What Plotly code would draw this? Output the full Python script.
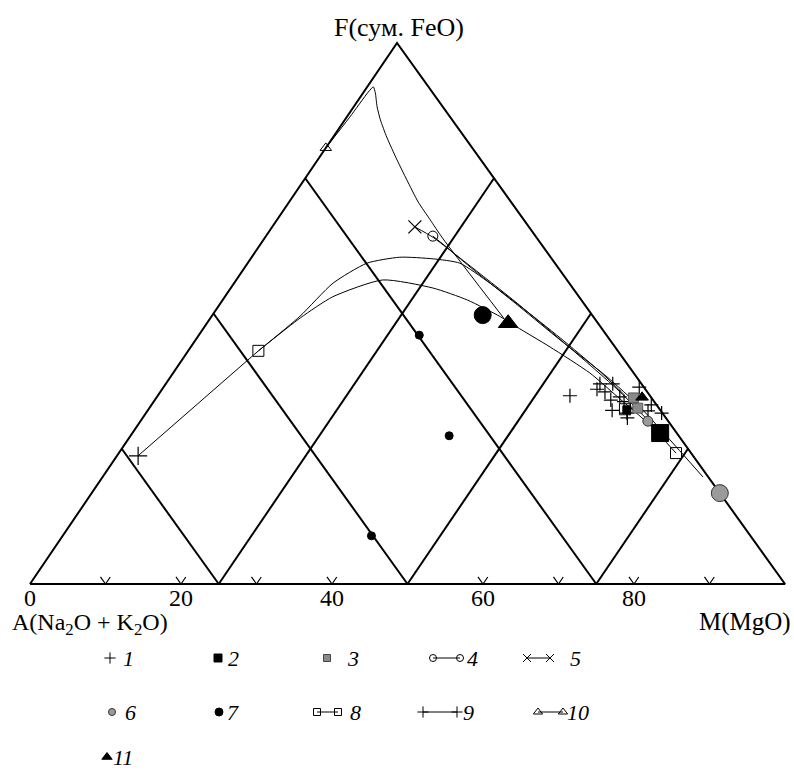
import plotly.graph_objects as go

# ---------------- data: compositions (A, M, F) in % ----------------
S1_PTS = [(10.6, 54.6, 34.8), (5.5, 57.5, 37.0), (3.8, 59.2, 37.0), (6.4, 57.6, 36.0),
          (0.6, 63.0, 36.4), (5.6, 60.4, 34.0), (4.1, 61.3, 34.6), (4.0, 62.3, 33.7),
          (6.4, 61.5, 32.1), (3.8, 63.7, 32.5), (4.7, 63.7, 31.6), (0.7, 66.2, 33.1),
          (0.1, 68.3, 31.6), (1.7, 66.3, 32.0), (5.2, 64.2, 30.7), (5.6, 58.9, 35.5)]
S2_PTS = [(2.2, 69.9, 27.9), (4.4, 63.4, 32.2)]
S3_PTS = [(2.5, 63.2, 34.4), (2.8, 64.7, 32.5)]
S4_PATH = [(13.6, 22.1, 64.3), (12.9, 24.6, 62.5), (11.6, 29.8, 58.6), (8.8, 40.0, 51.2),
           (6.6, 48.3, 45.1), (3.9, 57.8, 38.3), (2.4, 64.9, 32.7), (0.7, 79.5, 19.8)]
S5_PATH = [(15.1, 18.9, 66.0), (13.7, 22.2, 64.1), (11.6, 29.0, 59.3), (8.8, 39.3, 51.9),
           (5.1, 53.8, 41.0), (3.6, 60.9, 35.5), (2.2, 69.9, 27.9)]
S6_PTS = [(2.7, 67.2, 30.1), (0.0, 83.2, 16.8)]
S7_PTS = [(24.8, 29.2, 46.0), (30.4, 42.2, 27.4), (50.3, 40.9, 8.9), (14.5, 35.8, 49.7)]
S8_PATH = [(47.7, 9.3, 43.1), (39.0, 11.9, 49.2), (32.6, 14.3, 53.1), (24.4, 19.4, 56.2),
           (18.5, 26.8, 54.7), (15.1, 32.4, 52.5), (12.4, 38.3, 49.4), (11.1, 41.4, 47.5),
           (8.6, 47.6, 43.8), (5.8, 55.2, 39.0), (4.5, 61.0, 34.6), (2.8, 67.8, 29.4),
           (2.0, 73.8, 24.2)]
S8_EXTRA = [(4.6, 63.1, 32.3)]
S9_PATH = [(73.5, 2.8, 23.7), (47.7, 9.3, 43.1), (38.8, 11.7, 49.5), (31.3, 13.1, 55.6),
           (24.9, 15.8, 59.3), (19.9, 19.6, 60.4), (15.8, 24.2, 60.1), (12.6, 28.1, 59.3),
           (10.5, 33.9, 55.6), (8.7, 39.9, 51.4), (6.4, 48.1, 45.5), (4.4, 56.5, 39.2),
           (3.2, 61.8, 34.9)]
S10_PATH = [(19.4, 0.0, 80.6), (13.3, 0.4, 86.3), (8.5, 0.6, 90.9), (7.4, 0.8, 91.9),
            (7.7, 1.6, 90.8), (8.7, 3.1, 88.2), (9.6, 4.7, 85.8), (10.3, 7.1, 82.6),
            (11.1, 10.5, 78.4), (11.7, 13.6, 74.7), (12.3, 17.1, 70.6), (12.5, 20.3, 67.3),
            (12.6, 23.5, 64.0), (12.1, 38.8, 49.2)]
S11_PTS = [(11.9, 39.9, 48.2), (1.2, 64.3, 34.5)]

GRID_LEVELS = [25, 50, 75]
TICK_VALUES = [10, 20, 30, 40, 60, 70, 80, 90]
TICK_LABELS = ["0", "20", "40", "60", "80"]
TICK_LABEL_VALUES = [0, 20, 40, 60, 80]
LEGEND_LABELS = ["1", "2", "3", "4", "5", "6", "7", "8", "9", "10", "11"]

# ---------------- styles / geometry ----------------
SIZE_S2 = [17, 8]
SIZE_S6 = [10, 17]
SIZE_S7 = [8, 8, 8, 17]
SIZE_S11 = [17, 11]

SKEW = 0.4861           # horizontal position of F apex along base
PX0, PXS = 30, 7.55     # pixel of A vertex, pixels per unit (x)
PY0, PYS = 584, 5.41    # pixel of base, pixels per unit (y)
W, H = 794, 775
FONT = "Liberation Serif, DejaVu Serif, Times New Roman, serif"


def cart(pts):
    xs = [m + SKEW * f for a, m, f in pts]
    ys = [f for a, m, f in pts]
    return xs, ys


def px2x(px):
    return (px - PX0) / PXS


def py2y(py):
    return (PY0 - py) / PYS


fig = go.Figure()


def add_line(pts, width=1.0, color="black", smooth=False):
    xs, ys = cart(pts)
    line = dict(color=color, width=width)
    if smooth:
        line.update(shape="spline", smoothing=0.6)
    fig.add_trace(go.Scatter(x=xs, y=ys, mode="lines", line=line,
                             showlegend=False, hoverinfo="skip", cliponaxis=False))


def add_markers(pts, symbol, size, color="black", lw=1.0, lcolor="black"):
    xs, ys = cart(pts)
    fig.add_trace(go.Scatter(x=xs, y=ys, mode="markers",
                             marker=dict(symbol=symbol, size=size, color=color, opacity=1,
                                         line=dict(color=lcolor, width=lw)),
                             showlegend=False, cliponaxis=False))


# triangle frame
add_line([(100, 0, 0), (0, 100, 0), (0, 0, 100), (100, 0, 0)], width=2)
# diamond grid: constant A and constant M lines
for g in GRID_LEVELS:
    add_line([(g, 100 - g, 0), (g, 0, 100 - g)], width=2)
    add_line([(100 - g, g, 0), (0, g, 100 - g)], width=2)
# small V ticks on the base
for v in TICK_VALUES:
    add_line([(100 - v - 1.3, v, 1.3), (100 - v, v, 0), (100 - v, v - 1.3, 1.3)], width=1.2)

# data lines
add_line(S10_PATH, width=1.0, smooth=True)
add_line(S9_PATH[:2], width=1.0)
add_line(S9_PATH[1:], width=1.0, smooth=True)
add_line(S8_PATH, width=1.0, smooth=True)
add_line(S4_PATH, width=1.0, smooth=True)
add_line(S5_PATH, width=1.0, smooth=True)

# markers
add_markers(S1_PTS, "cross-thin-open", 10, lw=1.2)
add_markers(S2_PTS, "square", SIZE_S2, lw=1)
add_markers(S3_PTS, "square", 10, color="#8a8a8a", lw=0.8, lcolor="#444")
add_markers(S4_PATH[:1], "circle-open", 10, lw=1)
add_markers(S5_PATH[:1], "x-thin-open", 13, lw=1.2)
add_markers(S6_PTS, "circle", SIZE_S6, color="#9a9a9a", lw=1, lcolor="#333")
add_markers(S7_PTS, "circle", SIZE_S7, lw=1)
add_markers([S8_PATH[0], S8_PATH[-1]] + S8_EXTRA, "square-open", 11, lw=1)
add_markers(S9_PATH[:1], "cross-thin-open", 13, lw=1.2)
add_markers(S10_PATH[:1], "triangle-up-open", 10, lw=1)
add_markers(S11_PTS, "triangle-up", SIZE_S11, lw=1)

# ---------------- text ----------------
ann = []
ann.append(dict(x=px2x(399), y=py2y(27), text="F(сум. FeO)", showarrow=False,
                font=dict(family=FONT, size=26, color="black"), xanchor="center", yanchor="middle"))
for v, lab in zip(TICK_LABEL_VALUES, TICK_LABELS):
    ann.append(dict(x=v, y=py2y(598), text=lab, showarrow=False,
                    font=dict(family=FONT, size=24, color="black"), xanchor="center", yanchor="middle"))
ann.append(dict(x=px2x(10), y=py2y(624), text="A(Na<sub>2</sub>O + K<sub>2</sub>O)", showarrow=False,
                font=dict(family=FONT, size=24, color="black"), xanchor="left", yanchor="middle"))
ann.append(dict(x=px2x(793), y=py2y(622), text="M(MgO)", showarrow=False,
                font=dict(family=FONT, size=25, color="black"), xanchor="right", yanchor="middle"))

# ---------------- manual legend (layout grid in pixels) ----------------
ROW_Y = [658, 712, 757]
LEG = [  # (label index, row, number x, symbol, symbol xs, size, fill, outline)
    (0, 0, 128, "cross-thin-open", [110], 8, "black", "black"),
    (1, 0, 233, "square", [218], 8, "black", "black"),
    (2, 0, 353, "square", [327], 7, "#8a8a8a", "#444"),
    (3, 0, 472, "circle-open", [433, 460], 7, "black", "black"),
    (4, 0, 575, "x-thin-open", [527, 550], 8, "black", "black"),
    (5, 1, 130, "circle", [112], 7, "#9a9a9a", "#333"),
    (6, 1, 233, "circle", [219], 8, "black", "black"),
    (7, 1, 355, "square-open", [317, 338], 7, "black", "black"),
    (8, 1, 468, "cross-thin-open", [423, 457], 8, "black", "black"),
    (9, 1, 578, "triangle-up-open", [538, 563], 8, "black", "black"),
    (10, 2, 123, "triangle-up", [107], 9, "black", "black"),
]
for idx, row, nx, sym, sxs, sz, fill, outl in LEG:
    yy = py2y(ROW_Y[row])
    xs = [px2x(s) for s in sxs]
    if len(xs) > 1:
        fig.add_trace(go.Scatter(x=xs, y=[yy, yy], mode="lines", line=dict(color="black", width=1),
                                 showlegend=False, hoverinfo="skip", cliponaxis=False))
    fig.add_trace(go.Scatter(x=xs, y=[yy] * len(xs), mode="markers",
                             marker=dict(symbol=sym, size=sz, color=fill, opacity=1,
                                         line=dict(color=outl, width=1)),
                             showlegend=False, hoverinfo="skip", cliponaxis=False))
    ann.append(dict(x=px2x(nx), y=yy, text="<i>" + LEGEND_LABELS[idx] + "</i>", showarrow=False,
                    font=dict(family=FONT, size=22, color="black"), xanchor="center", yanchor="middle"))

fig.update_layout(
    width=W, height=H, autosize=False,
    margin=dict(l=0, r=0, t=0, b=0),
    paper_bgcolor="white", plot_bgcolor="white",
    xaxis=dict(range=[px2x(0), px2x(W)], visible=False, fixedrange=True),
    yaxis=dict(range=[py2y(H), py2y(0)], visible=False, fixedrange=True),
    annotations=ann,
    showlegend=False,
)

fig.write_html("out.html")
